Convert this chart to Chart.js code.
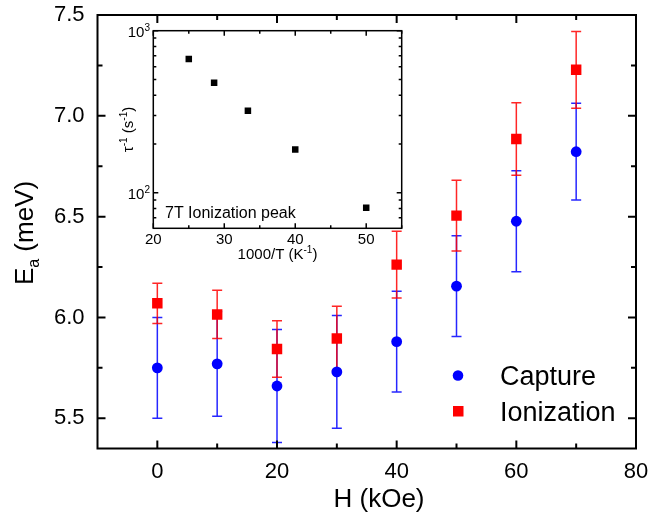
<!DOCTYPE html>
<html><head><meta charset="utf-8">
<script src="https://cdn.jsdelivr.net/npm/chart.js@4.4.1/dist/chart.umd.min.js"></script>
<style>
html,body{margin:0;padding:0;background:#fff;}
#wrap{position:relative;width:648px;height:517px;}
canvas{position:absolute;left:0;top:0;}
</style></head><body>
<div id="wrap"><canvas id="main" width="648" height="517"></canvas><canvas id="inset" width="648" height="517"></canvas></div>
<script>
// ---- main chart data ----
const fieldH = [0, 10, 20, 30, 40, 50, 60, 70];
const captureEa = [5.75, 5.77, 5.66, 5.73, 5.88, 6.155, 6.477, 6.822];
const captureErr = [0.25, 0.26, 0.28, 0.28, 0.25, 0.25, 0.25, 0.24];
const ionizationEa = [6.07, 6.015, 5.843, 5.896, 6.262, 6.505, 6.885, 7.228];
const ionizationErr = [0.10, 0.12, 0.14, 0.16, 0.165, 0.175, 0.18, 0.19];
const xTicks = [0, 20, 40, 60, 80];
const xMinor = [10, 30, 50, 70];
const yTicks = [5.5, 6.0, 6.5, 7.0, 7.5];
const yMinor = [5.75, 6.25, 6.75, 7.25];
const seriesNames = ['Capture', 'Ionization'];

// ---- inset data ----
const insetInvT = [25, 28.57, 33.33, 40, 50];
const insetRate = [668, 477, 321, 185, 80.7];
const insetXTicks = [20, 30, 40, 50];
const insetXMinor = [25, 35, 45, 55];
const insetYTicks = [100, 1000];
const insetYMinor = [70, 80, 90, 200, 300, 400, 500, 600, 700, 800, 900];
const insetNote = '7T Ionization peak';

const FONT = '"Liberation Sans", Arial, Helvetica, sans-serif';
Chart.defaults.font.family = FONT;
Chart.defaults.color = '#000';

const BLUE = '#0000ff', RED = '#ff0000';

function noPadX(s, h) { s.height = h; s.paddingLeft = 0; s.paddingRight = 0; s.paddingTop = 0; s.paddingBottom = 0; }
function noPadY(s, w) { s.width = w; s.paddingLeft = 0; s.paddingRight = 0; s.paddingTop = 0; s.paddingBottom = 0; }

function drawErr(chart, xs, ys, es, color) {
  const {ctx, scales: {x, y}} = chart;
  ctx.save();
  ctx.strokeStyle = color; ctx.lineWidth = 1.5;
  xs.forEach((xv, i) => {
    const px = x.getPixelForValue(xv);
    const t = y.getPixelForValue(ys[i] + es[i]);
    const b = y.getPixelForValue(ys[i] - es[i]);
    ctx.beginPath();
    ctx.moveTo(px, t); ctx.lineTo(px, b);
    ctx.moveTo(px - 5, t); ctx.lineTo(px + 5, t);
    ctx.moveTo(px - 5, b); ctx.lineTo(px + 5, b);
    ctx.stroke();
  });
  ctx.restore();
}

function drawFrameTicks(chart, xMaj, xMin, yMaj, yMin, lw, majL, minL) {
  const {ctx, chartArea: a, scales: {x, y}} = chart;
  ctx.save();
  ctx.strokeStyle = '#000'; ctx.lineWidth = lw;
  ctx.beginPath();
  const tick = (vals, len) => {
    vals.forEach(v => {
      const px = x.getPixelForValue(v);
      if (px < a.left - 0.5 || px > a.right + 0.5) return;
      ctx.moveTo(px, a.bottom); ctx.lineTo(px, a.bottom - len);
      ctx.moveTo(px, a.top); ctx.lineTo(px, a.top + len);
    });
  };
  const ticky = (vals, len) => {
    vals.forEach(v => {
      const py = y.getPixelForValue(v);
      if (py < a.top - 0.5 || py > a.bottom + 0.5) return;
      ctx.moveTo(a.left, py); ctx.lineTo(a.left + len, py);
      ctx.moveTo(a.right, py); ctx.lineTo(a.right - len, py);
    });
  };
  tick(xMaj, majL); tick(xMin, minL); ticky(yMaj, majL); ticky(yMin, minL);
  ctx.stroke();
  ctx.lineJoin = 'miter';
  ctx.strokeRect(a.left, a.top, a.right - a.left, a.bottom - a.top);
  ctx.restore();
}

const mainPlugin = {
  id: 'mainDecor',
  beforeDraw(chart) {
    const {ctx, width, height} = chart;
    ctx.save(); ctx.fillStyle = '#fff'; ctx.fillRect(0, 0, width, height); ctx.restore();
  },
  beforeDatasetsDraw(chart) {
    drawErr(chart, fieldH, captureEa, captureErr, 'rgba(0,0,255,0.85)');
    drawErr(chart, fieldH, ionizationEa, ionizationErr, 'rgba(255,0,0,0.85)');
  },
  afterDraw(chart) {
    const {ctx} = chart;
    drawFrameTicks(chart, xTicks, xMinor, yTicks, yMinor, 2, 8, 5);
    ctx.save();
    ctx.fillStyle = '#000';
    ctx.font = '26px ' + FONT;
    ctx.textAlign = 'center'; ctx.textBaseline = 'alphabetic';
    ctx.fillText('H (kOe)', 379, 507);
    ctx.translate(33, 233);
    ctx.rotate(-Math.PI / 2);
    const f1 = '26px ' + FONT, f2 = '16px ' + FONT;
    ctx.font = f1; const wE = ctx.measureText('E').width;
    const wR = ctx.measureText(' (meV)').width;
    ctx.font = f2; const wa = ctx.measureText('a').width;
    const tot = wE + wa + wR;
    let cx = -tot / 2;
    ctx.textAlign = 'left';
    ctx.font = f1; ctx.fillText('E', cx, 0); cx += wE;
    ctx.font = f2; ctx.fillText('a', cx, 6); cx += wa;
    ctx.font = f1; ctx.fillText(' (meV)', cx, 0);
    ctx.restore();
    ctx.save();
    ctx.fillStyle = BLUE;
    ctx.beginPath(); ctx.arc(458, 375.5, 5.3, 0, Math.PI * 2); ctx.fill();
    ctx.fillStyle = RED;
    ctx.fillRect(453, 406, 10.5, 10.5);
    ctx.fillStyle = '#000';
    ctx.font = '27px ' + FONT;
    ctx.textAlign = 'left'; ctx.textBaseline = 'alphabetic';
    ctx.fillText(seriesNames[0], 500, 385);
    ctx.fillText(seriesNames[1], 500, 420.5);
    ctx.restore();
  }
};

new Chart(document.getElementById('main'), {
  type: 'scatter',
  data: {
    datasets: [
      {label: seriesNames[0], data: fieldH.map((h, i) => ({x: h, y: captureEa[i]})),
       pointStyle: 'circle', pointRadius: 5.4, backgroundColor: BLUE, borderWidth: 0, order: 1},
      {label: seriesNames[1], data: fieldH.map((h, i) => ({x: h, y: ionizationEa[i]})),
       pointStyle: 'rect', pointRadius: 7.4, backgroundColor: RED, borderWidth: 0, order: 0}
    ]
  },
  options: {
    responsive: false, animation: false, events: [],
    layout: {padding: {top: 15, right: 12, left: 0, bottom: 0}},
    plugins: {legend: {display: false}, tooltip: {enabled: false}},
    scales: {
      x: {
        type: 'linear', min: -10, max: 80,
        afterBuildTicks: s => { s.ticks = xTicks.map(v => ({value: v})); },
        afterFit: s => noPadX(s, 68.5),
        grid: {display: false, drawTicks: false}, border: {display: false},
        ticks: {font: {size: 22}, padding: 10, maxRotation: 0, autoSkip: false}
      },
      y: {
        type: 'linear', min: 5.35, max: 7.5,
        afterBuildTicks: s => { s.ticks = yTicks.map(v => ({value: v})); },
        afterFit: s => noPadY(s, 97.5),
        grid: {display: false, drawTicks: false}, border: {display: false},
        ticks: {font: {size: 22}, padding: 13, callback: v => Number(v).toFixed(1)}
      }
    }
  },
  plugins: [mainPlugin]
});

// ---- inset ----
function drawSupText(ctx, parts, x, y, align) {
  const fb = '15px ' + FONT, fs = '10px ' + FONT;
  let w = 0;
  parts.forEach(p => { ctx.font = p[1] ? fs : fb; w += ctx.measureText(p[0]).width; });
  let cx = align === 'center' ? x - w / 2 : (align === 'right' ? x - w : x);
  ctx.textAlign = 'left';
  parts.forEach(p => {
    ctx.font = p[1] ? fs : fb;
    ctx.fillText(p[0], cx, p[1] ? y - 6 : y);
    cx += ctx.measureText(p[0]).width;
  });
}

const insetPlugin = {
  id: 'insetDecor',
  afterDraw(chart) {
    const {ctx, scales: {y}} = chart;
    drawFrameTicks(chart, insetXTicks, insetXMinor, insetYTicks, insetYMinor, 1.5, 5, 3);
    ctx.save();
    ctx.fillStyle = '#000';
    ctx.textBaseline = 'alphabetic';
    insetYTicks.forEach(v => {
      const py = y.getPixelForValue(v);
      const e = Math.round(Math.log10(v));
      drawSupText(ctx, [['10', false], [String(e), true]], 150, py + 6, 'right');
    });
    drawSupText(ctx, [['1000/T (K', false], ['-1', true], [')', false]], 277.5, 259, 'center');
    ctx.font = '16px ' + FONT;
    ctx.textAlign = 'left';
    ctx.fillText(insetNote, 165, 218);
    ctx.translate(133, 129.5);
    ctx.rotate(-Math.PI / 2);
    drawSupText(ctx, [['\u03c4', false], ['-1', true], [' (s', false], ['-1', true], [')', false]], 0, 0, 'center');
    ctx.restore();
  }
};

new Chart(document.getElementById('inset'), {
  type: 'scatter',
  data: {
    datasets: [{data: insetInvT.map((v, i) => ({x: v, y: insetRate[i]})),
      pointStyle: 'rect', pointRadius: 4.6, backgroundColor: '#000', borderWidth: 0}]
  },
  options: {
    responsive: false, animation: false, events: [],
    layout: {padding: {top: 30.7, right: 246.3, left: 0, bottom: 0}},
    plugins: {legend: {display: false}, tooltip: {enabled: false}},
    scales: {
      x: {
        type: 'linear', min: 20, max: 55,
        afterBuildTicks: s => { s.ticks = insetXTicks.map(v => ({value: v})); },
        afterFit: s => noPadX(s, 288.7),
        grid: {display: false, drawTicks: false}, border: {display: false},
        ticks: {font: {size: 15}, padding: 3, maxRotation: 0, autoSkip: false}
      },
      y: {
        type: 'logarithmic', min: 60.3, max: 1000,
        afterFit: s => noPadY(s, 153.3),
        grid: {display: false, drawTicks: false}, border: {display: false},
        ticks: {display: false}
      }
    }
  },
  plugins: [insetPlugin]
});
</script>
</body></html>
